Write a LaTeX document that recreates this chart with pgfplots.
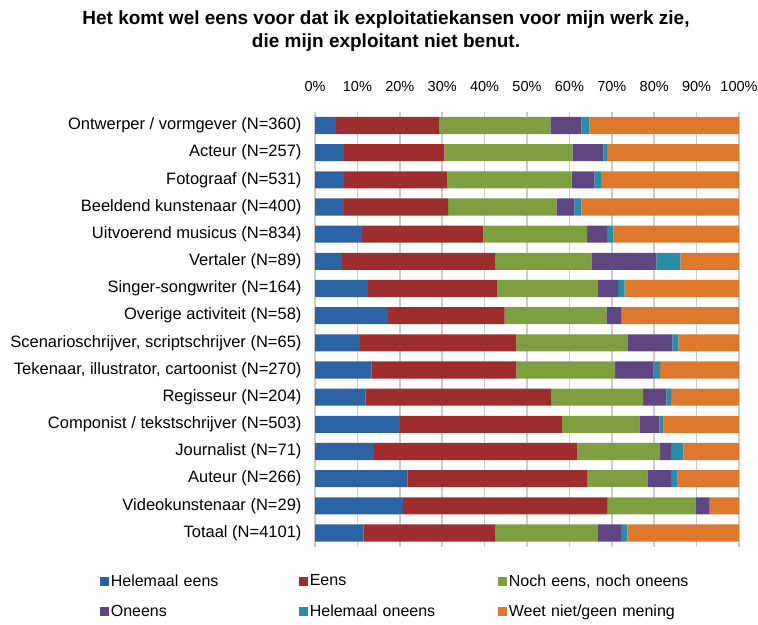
\documentclass[border=0pt]{standalone}
\usepackage{fontspec}
\setmainfont{Liberation Sans}
\usepackage{pgfplots}
\usepackage{pgfplotstable}
\pgfplotsset{compat=1.18}

\definecolor{cBlue}{HTML}{2C63A4}
\definecolor{cRed}{HTML}{9E2D2D}
\definecolor{cGreen}{HTML}{7E9F40}
\definecolor{cPurple}{HTML}{5F4581}
\definecolor{cTeal}{HTML}{2B8CA7}
\definecolor{cOrange}{HTML}{DD782C}

% idx: 0 = top row
\pgfplotstableread{
idx he   e    ne   on   ho  wn
0   5.0  24.3 26.2 7.3  1.9 35.3
1   6.8  23.7 30.2 7.3  0.9 31.1
2   6.8  24.4 29.3 5.4  1.6 32.5
3   6.8  24.6 25.5 4.3  1.6 37.2
4   11.1 28.6 24.5 4.7  1.5 29.6
5   6.4  36.1 22.7 15.3 5.7 13.8
6   12.5 30.5 23.8 4.7  1.5 27.0
7   17.2 27.5 24.0 3.5  0.0 27.8
8   10.6 36.9 26.2 10.6 1.4 14.3
9   13.3 34.2 23.3 9.0  1.6 18.6
10  11.9 43.8 21.7 5.5  1.1 16.0
11  20.0 38.3 18.2 4.7  1.0 17.8
12  13.9 48.0 19.5 2.6  2.9 13.1
13  21.8 42.4 14.2 5.6  1.5 14.5
14  20.7 48.3 20.7 3.4  0.0 6.9
15  11.4 31.1 24.1 5.6  1.5 26.3
}\data

\begin{document}
\begin{tikzpicture}
\path[use as bounding box] (0,0) rectangle (758bp,625bp);
\node[anchor=base, font=\fontsize{19bp}{22bp}\selectfont\bfseries] at (386bp,600bp)
  {Het komt wel eens voor dat ik exploitatiekansen voor mijn werk zie,};
\node[anchor=base, font=\fontsize{19bp}{22bp}\selectfont\bfseries] at (386bp,577bp)
  {die mijn exploitant niet benut.};
\begin{axis}[
    at={(315bp,78.4bp)}, anchor=south west,
    width=424bp, height=434.7bp,
    scale only axis,
    xbar stacked,
    bar width=0.63,
    bar shift=0pt,
    xmin=0, xmax=100,
    ymin=-0.5, ymax=15.5,
    y dir=reverse,
    xtick={0,10,...,100},
    xticklabel={\pgfmathprintnumber{\tick}\%},
    xticklabel pos=top,
    ytick={0,...,15},
    yticklabels={
      Ontwerper / vormgever (N=360),
      Acteur (N=257),
      Fotograaf (N=531),
      Beeldend kunstenaar (N=400),
      Uitvoerend musicus (N=834),
      Vertaler (N=89),
      Singer-songwriter (N=164),
      Overige activiteit (N=58),
      {Scenarioschrijver, scriptschrijver (N=65)},
      {Tekenaar, illustrator, cartoonist (N=270)},
      Regisseur (N=204),
      Componist / tekstschrijver (N=503),
      Journalist (N=71),
      Auteur (N=266),
      Videokunstenaar (N=29),
      Totaal (N=4101)},
    /pgf/number format/assume math mode=true,
    xticklabel style={font=\fontsize{14.5bp}{17bp}\selectfont, yshift=17bp},
    yticklabel style={font=\fontsize{16.5bp}{19bp}\selectfont, xshift=-10bp},
    major tick length=0pt,
    axis line style={draw=none},
    xmajorgrids,
    grid style={draw=black!20, line width=1.6bp},
    legend columns=3,
    legend cell align=left,
    legend image code/.code={\path[#1, draw=none] (0bp,-4.5bp) rectangle (9bp,4.5bp);},
    legend style={
      draw=none, fill=none,
      at={(-0.515,-0.055)}, anchor=north west,
      font=\fontsize{16bp}{19bp}\selectfont,
      nodes={text width=186bp, align=left, inner xsep=2bp},
      row sep=13bp,
    },
  ]
  \addplot[draw=none, fill=cBlue] table[x=he, y=idx] {\data};
  \addplot[draw=none, fill=cRed] table[x=e, y=idx] {\data};
  \addplot[draw=none, fill=cGreen] table[x=ne, y=idx] {\data};
  \addplot[draw=none, fill=cPurple] table[x=on, y=idx] {\data};
  \addplot[draw=none, fill=cTeal] table[x=ho, y=idx] {\data};
  \addplot[draw=none, fill=cOrange] table[x=wn, y=idx] {\data};
  \legend{Helemaal eens, Eens, {Noch eens, noch oneens}, Oneens, Helemaal oneens, Weet niet/geen mening}
\end{axis}
\end{tikzpicture}
\end{document}
